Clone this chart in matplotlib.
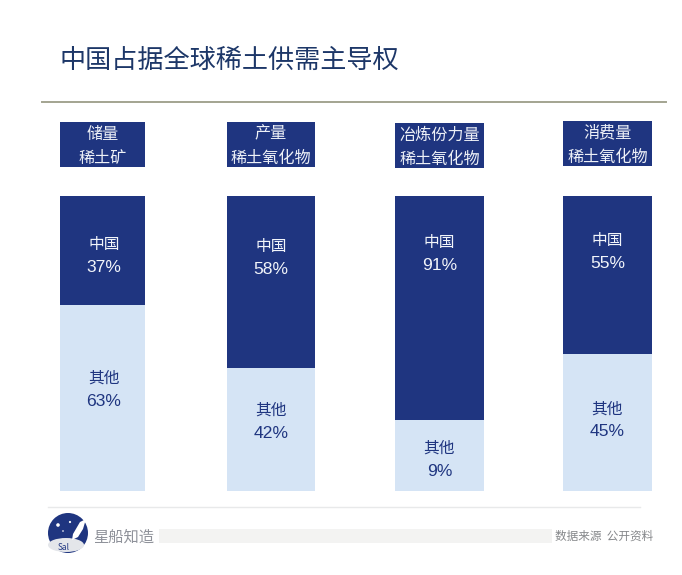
import matplotlib
matplotlib.use("Agg")
import matplotlib.pyplot as plt
from matplotlib.patches import Circle, Ellipse, Rectangle, Polygon

plt.rcParams["font.family"] = ["Noto Sans CJK SC", "DejaVu Sans"]

W, H = 682, 575
NAVY = "#1f3580"
LIGHT = "#d5e4f5"
PCT_FONT = ["Liberation Sans", "DejaVu Sans"]

title = "中国占据全球稀土供需主导权"
head_top = ["储量", "产量", "冶炼份力量", "消费量"]
head_bottom = ["稀土矿", "稀土氧化物", "稀土氧化物", "稀土氧化物"]

# printed labels
china_labels = ["37%", "58%", "91%", "55%"]
other_labels = ["63%", "42%", "9%", "45%"]
# bar heights as drawn, the third bar is not in proportion to its label
china_drawn = [37, 58.3, 76, 53.5]
other_drawn = [63, 41.7, 24, 46.5]

bar_left = [60, 227, 395, 563]
bar_width = [85, 88, 89, 89]
head_y = [122, 122, 123, 121]
china_y = [243, 244, 241, 239]
other_y = [376, 408, 446, 407]
text_shift = [1.5, 0, 0, 0]

fig = plt.figure(figsize=(W / 100, H / 100), dpi=100)

# bars: x in pixels, y in percent
ax = fig.add_axes([0, (H - 491) / H, 1, 295 / H])
ax.set_xlim(0, W)
ax.set_ylim(0, 100)
ax.axis("off")
ax.bar(bar_left, other_drawn, width=bar_width, align="edge", color=LIGHT)
ax.bar(bar_left, china_drawn, width=bar_width, bottom=other_drawn, align="edge", color=NAVY)

# everything else in pixel coords, y down
ov = fig.add_axes([0, 0, 1, 1])
ov.set_xlim(0, W)
ov.set_ylim(H, 0)
ov.axis("off")
ov.patch.set_alpha(0)

ov.text(59.5, 60, title, fontsize=18.8, color="#1d3768", va="center", ha="left")
ov.plot([42, 666], [102, 102], color="#a3a491", lw=1.4)

for i in range(4):
    cx = bar_left[i] + bar_width[i] / 2
    tx = cx + text_shift[i]
    ov.add_patch(Rectangle((bar_left[i], head_y[i]), bar_width[i], 45, color=NAVY, lw=0))
    ov.text(cx, head_y[i] + 12, head_top[i], color="#eef1f7", fontsize=11.6, ha="center", va="center")
    ov.text(cx, head_y[i] + 36.5, head_bottom[i], color="#eef1f7", fontsize=11.6, ha="center", va="center")
    ov.text(tx, china_y[i] + 2, "中国", color="#f2f5fa", fontsize=11.3, ha="center", va="center")
    ov.text(tx, china_y[i] + 25, china_labels[i], color="#f2f5fa", fontsize=12.6, family=PCT_FONT, ha="center", va="center")
    ov.text(tx, other_y[i] + 2, "其他", color=NAVY, fontsize=11.3, ha="center", va="center")
    ov.text(tx, other_y[i] + 25, other_labels[i], color=NAVY, fontsize=12.6, family=PCT_FONT, ha="center", va="center")

# footer
ov.plot([48, 640], [506.5, 506.5], color="#e8e9ea", lw=1)
ov.add_patch(Rectangle((159, 529), 393, 13.5, color="#f3f3f2", lw=0))
ov.text(93, 537, "星船知造", color="#8f929a", fontsize=11, ha="left", va="center")
ov.text(653, 536.5, "数据来源  公开资料", color="#85878a", fontsize=8.4, ha="right", va="center")

# logo
ov.add_patch(Circle((68, 533), 20, color=NAVY, lw=0))
ov.add_patch(Ellipse((66, 545), 36, 14, color="#e4e6ea", lw=0))
ov.add_patch(Polygon([(86, 519), (80, 522), (73, 534), (72, 540), (78, 537), (83, 529)], color="white", lw=0))
for sx, sy, sr in [(58, 525, 1.8), (70, 522, 1.1), (63, 531, 0.8)]:
    ov.add_patch(Circle((sx, sy), sr, color="white", lw=0))
ov.text(64, 547, "Sal", color=NAVY, fontsize=6, ha="center", va="center")

fig.savefig("out.png", dpi=100)
